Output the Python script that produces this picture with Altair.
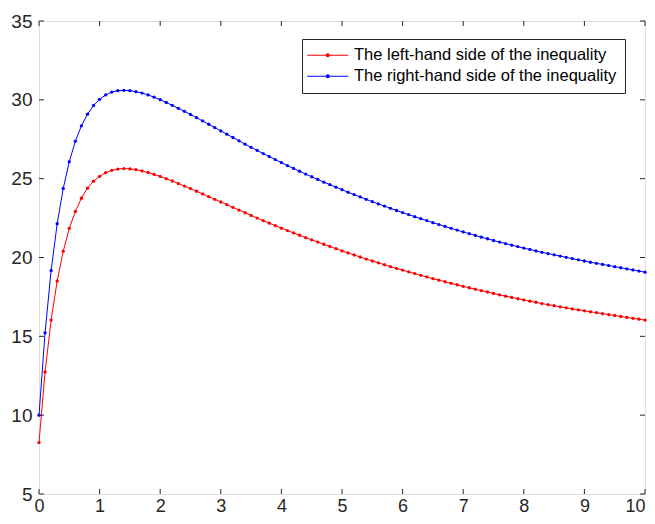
import altair as alt
import pandas as pd

series_names = ["The left-hand side of the inequality",
                "The right-hand side of the inequality"]

x_values = [round(i * 0.1, 1) for i in range(101)]

left_side = [
    8.26, 12.74, 16.03, 18.51, 20.40, 21.85, 22.92, 23.76, 24.40, 24.84,
    25.15, 25.38, 25.53, 25.61, 25.64, 25.62, 25.57, 25.49, 25.39, 25.27,
    25.14, 25.00, 24.85, 24.69, 24.53, 24.37, 24.20, 24.03, 23.86, 23.69,
    23.52, 23.35, 23.18, 23.01, 22.84, 22.67, 22.50, 22.34, 22.18, 22.02,
    21.86, 21.71, 21.56, 21.41, 21.26, 21.12, 20.98, 20.84, 20.70, 20.56,
    20.42, 20.29, 20.16, 20.03, 19.90, 19.78, 19.66, 19.54, 19.42, 19.31,
    19.20, 19.09, 18.98, 18.87, 18.77, 18.66, 18.56, 18.46, 18.36, 18.27,
    18.17, 18.08, 17.99, 17.90, 17.81, 17.72, 17.63, 17.55, 17.47, 17.39,
    17.31, 17.23, 17.16, 17.08, 17.01, 16.94, 16.87, 16.81, 16.74, 16.68,
    16.62, 16.56, 16.50, 16.44, 16.38, 16.32, 16.26, 16.20, 16.14, 16.09,
    16.03,
]

right_side = [
    10.00, 15.22, 19.17, 22.14, 24.38, 26.08, 27.38, 28.35, 29.09, 29.64,
    30.03, 30.31, 30.49, 30.58, 30.60, 30.58, 30.52, 30.43, 30.31, 30.17,
    30.01, 29.83, 29.65, 29.46, 29.27, 29.07, 28.87, 28.66, 28.45, 28.24,
    28.03, 27.82, 27.61, 27.40, 27.19, 26.99, 26.79, 26.59, 26.40, 26.21,
    26.02, 25.83, 25.65, 25.47, 25.29, 25.12, 24.95, 24.78, 24.62, 24.46,
    24.30, 24.14, 23.99, 23.84, 23.69, 23.54, 23.40, 23.26, 23.12, 22.98,
    22.85, 22.72, 22.59, 22.46, 22.34, 22.21, 22.09, 21.97, 21.85, 21.74,
    21.62, 21.51, 21.40, 21.29, 21.19, 21.08, 20.98, 20.88, 20.78, 20.69,
    20.60, 20.51, 20.42, 20.33, 20.25, 20.17, 20.09, 20.01, 19.93, 19.85,
    19.78, 19.70, 19.63, 19.56, 19.49, 19.42, 19.35, 19.28, 19.21, 19.14,
    19.07,
]

x_ticks = [0, 1, 2, 3, 4, 5, 6, 7, 8, 9, 10]
y_ticks = [5, 10, 15, 20, 25, 30, 35]

W, H = 606, 473
AX = "#262626"
FONT = "Liberation Sans"

df = pd.concat([
    pd.DataFrame({"x": x_values, "y": left_side, "series": series_names[0]}),
    pd.DataFrame({"x": x_values, "y": right_side, "series": series_names[1]}),
])

xs = alt.Scale(domain=[0, 10], nice=False, zero=False)
ys = alt.Scale(domain=[5, 35], nice=False, zero=False)
cs = alt.Scale(domain=series_names, range=["#ff0000", "#0000ff"])

x_axis = alt.Axis(values=x_ticks, format="d", title=None, grid=False, ticks=False,
                  domain=False, labelFontSize=18, labelFont=FONT, labelColor=AX,
                  labelPadding=3, labelFlush=False, labelOverlap=False,
                  labelAlign=alt.ExprRef(expr="datum.value == 10 ? 'right' : 'center'"))
y_axis = alt.Axis(values=y_ticks, format="d", title=None, grid=False, ticks=False,
                  domain=False, labelFontSize=19, labelFont=FONT, labelColor=AX,
                  labelPadding=7, labelFlush=False, labelOverlap=False)

# line with a dot in the middle; path units are scaled by sqrt(size)/2 = 5 px
legend_symbol = ("M-4.1,0H4.1M-0.28,0a0.28,0.28 0 1,0 0.56,0"
                 "a0.28,0.28 0 1,0 -0.56,0")

legend = alt.Legend(
    title=None, orient="none", legendX=263, legendY=18,
    labelFontSize=16.5, labelFont=FONT, labelColor="#000000", labelLimit=0,
    symbolType=legend_symbol, symbolSize=100, symbolStrokeWidth=1.2,
    symbolOffset=9.5, labelOffset=18,
    strokeColor=AX, fillColor="white", padding=8, rowPadding=4,
)

base = alt.Chart(df).encode(
    x=alt.X("x:Q", scale=xs, axis=x_axis),
    y=alt.Y("y:Q", scale=ys, axis=y_axis),
)

lines = base.mark_line(strokeWidth=1).encode(
    color=alt.Color("series:N", scale=cs, legend=legend),
    detail="series:N",
)
points = base.mark_circle(size=11, opacity=1).encode(
    color=alt.Color("series:N", scale=cs, legend=None),
)

xt = pd.DataFrame({"t": x_ticks})
yt = pd.DataFrame({"t": y_ticks})

xtick_b = alt.Chart(xt).mark_rule(color=AX, strokeWidth=1).encode(
    x=alt.X("t:Q", scale=xs, axis=x_axis), y=alt.value(H), y2=alt.value(H - 5))
xtick_t = alt.Chart(xt).mark_rule(color=AX, strokeWidth=1).encode(
    x=alt.X("t:Q", scale=xs, axis=x_axis), y=alt.value(0), y2=alt.value(5))
ytick_l = alt.Chart(yt).mark_rule(color=AX, strokeWidth=1).encode(
    y=alt.Y("t:Q", scale=ys, axis=y_axis), x=alt.value(0), x2=alt.value(5))
ytick_r = alt.Chart(yt).mark_rule(color=AX, strokeWidth=1).encode(
    y=alt.Y("t:Q", scale=ys, axis=y_axis), x=alt.value(W - 5), x2=alt.value(W))

chart = alt.layer(lines, points, xtick_b, xtick_t, ytick_l, ytick_r).properties(
    width=W, height=H,
    autosize=alt.AutoSizeParams(type="none"),
    padding={"left": 31, "top": 13, "right": 2, "bottom": 508 - 13 - H},
).configure_view(stroke=AX, strokeWidth=1).configure(background="white")

chart.save("out.html", embed_options={"renderer": "svg", "actions": False})
